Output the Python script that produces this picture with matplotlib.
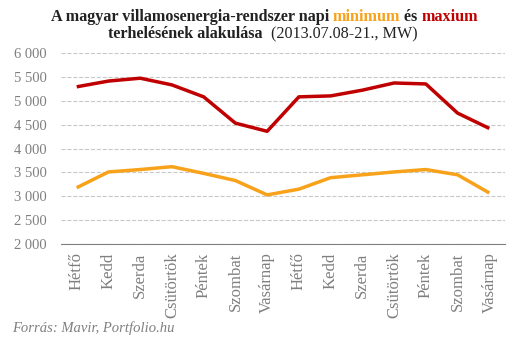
import matplotlib
matplotlib.use("Agg")
import matplotlib.pyplot as plt
from matplotlib.ticker import FuncFormatter

days = ["Hétfő", "Kedd", "Szerda", "Csütörtök", "Péntek", "Szombat", "Vasárnap",
        "Hétfő", "Kedd", "Szerda", "Csütörtök", "Péntek", "Szombat", "Vasárnap"]
maximum = [5290, 5410, 5470, 5330, 5080, 4530, 4360, 5080, 5100, 5220, 5370, 5350, 4740, 4420]
minimum = [3180, 3510, 3560, 3620, 3480, 3330, 3030, 3150, 3390, 3450, 3510, 3560, 3450, 3070]
yticks = [2000, 2500, 3000, 3500, 4000, 4500, 5000, 5500, 6000]

orange = "#F7A21A"
red = "#C00000"
gray = "#7f7f7f"
serif = ["Liberation Serif", "DejaVu Serif"]
plt.rcParams["font.family"] = serif

fig = plt.figure(figsize=(5.29, 3.41), dpi=100)
ax = fig.add_axes([0.115, 0.284, 0.84, 0.561])

x = list(range(len(days)))
ax.plot(x, maximum, color=red, lw=2.5, solid_capstyle="butt")
ax.plot(x, minimum, color=orange, lw=2.5, solid_capstyle="butt")

ax.set_xlim(-0.5, len(days) - 0.5)
ax.set_ylim(2000, 6000)
ax.set_yticks(yticks)
ax.yaxis.set_major_formatter(FuncFormatter(lambda v, p: f"{int(v):,}".replace(",", " ")))
ax.set_xticks(x)
ax.set_xticklabels(days, rotation=90, fontsize=12)
ax.tick_params(axis="x", length=0, colors=gray, pad=6)
ax.tick_params(axis="y", length=0, labelsize=10.5, colors=gray, pad=10)
ax.grid(axis="y", color="#c8c8c8", ls="--", lw=0.8)
ax.set_axisbelow(True)
for s in ["top", "right", "left"]:
    ax.spines[s].set_visible(False)
ax.spines["bottom"].set_color("#808080")

# title with coloured words
def line_of_text(pieces, y, cx):
    fig.canvas.draw()
    r = fig.canvas.get_renderer()
    objs = []
    for txt, col, wt in pieces:
        t = fig.text(0, y, txt, color=col, weight=wt, fontsize=11.6, ha="left", va="baseline")
        objs.append(t)
    widths = [t.get_window_extent(r).width for t in objs]
    total = sum(widths)
    xpos = cx * fig.bbox.width - total / 2
    for t, w in zip(objs, widths):
        t.set_x(xpos / fig.bbox.width)
        xpos += w

line_of_text([("A magyar villamosenergia-rendszer napi ", "#222222", "bold"),
              ("minimum", orange, "bold"),
              (" és ", "#222222", "bold"),
              ("maxium", red, "bold")], 1 - 21 / 341, 0.5)
line_of_text([("terhelésének alakulása", "#222222", "bold"),
              ("  (2013.07.08-21., MW)", "#222222", "normal")], 1 - 38 / 341, 0.497)

fig.text(12 / 529, 1 - 332 / 341, "Forrás: Mavir, Portfolio.hu", color=gray,
         style="italic", fontsize=10.5)

fig.savefig("out.png", dpi=100)
